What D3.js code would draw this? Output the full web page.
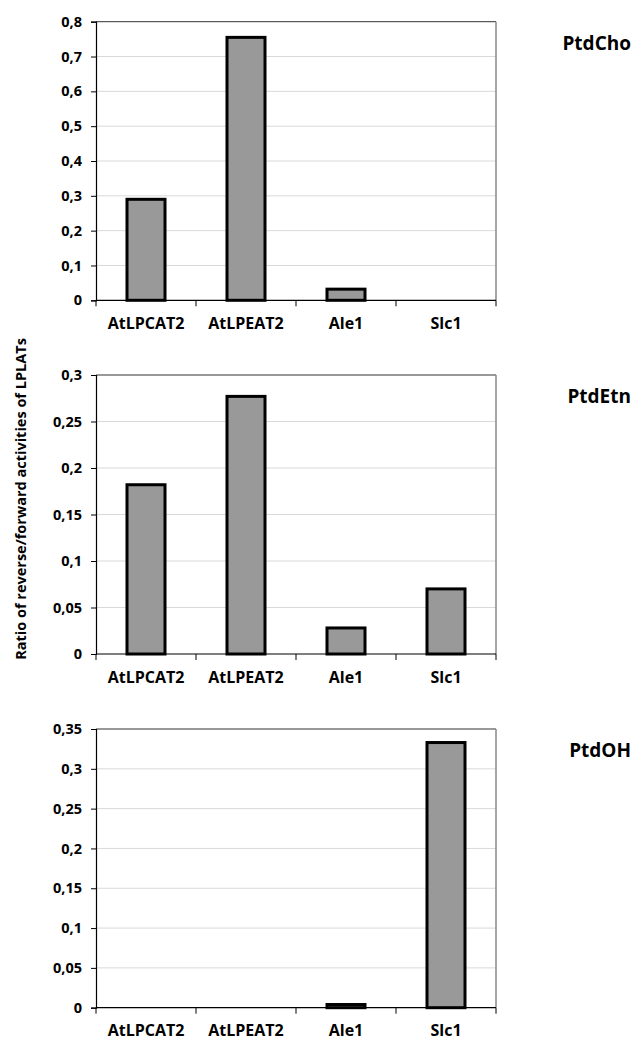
<!DOCTYPE html>
<html>
<head>
<meta charset="utf-8">
<script src="https://cdn.jsdelivr.net/npm/d3@7"></script>
<style>
  html, body { margin: 0; padding: 0; background: #fff; }
  svg { display: block; }
  text { font-family: "Open Sans", "DejaVu Sans", sans-serif; font-weight: bold; fill: #000; }
</style>
</head>
<body>
<svg id="chart" width="632" height="1042"></svg>
<script>
// ---- data ----
const categories = ["AtLPCAT2", "AtLPEAT2", "Ale1", "Slc1"];
const panelTitles = ["PtdCho", "PtdEtn", "PtdOH"];
const ptdChoValues = [0.29, 0.755, 0.032, 0];
const ptdEtnValues = [0.182, 0.277, 0.028, 0.07];
const ptdOHValues = [0, 0, 0.004, 0.333];
const ptdChoTicks = [0, 0.1, 0.2, 0.3, 0.4, 0.5, 0.6, 0.7, 0.8];
const ptdEtnTicks = [0, 0.05, 0.1, 0.15, 0.2, 0.25, 0.3];
const ptdOHTicks = [0, 0.05, 0.1, 0.15, 0.2, 0.25, 0.3, 0.35];
const ptdChoTickLabels = ["0", "0,1", "0,2", "0,3", "0,4", "0,5", "0,6", "0,7", "0,8"];
const ptdEtnTickLabels = ["0", "0,05", "0,1", "0,15", "0,2", "0,25", "0,3"];
const ptdOHTickLabels = ["0", "0,05", "0,1", "0,15", "0,2", "0,25", "0,3", "0,35"];
const yAxisTitle = "Ratio of reverse/forward activities of LPLATs";

const panels = [
  { title: panelTitles[0], values: ptdChoValues, ticks: ptdChoTicks, labels: ptdChoTickLabels, top: 21.7, bottom: 300.3 },
  { title: panelTitles[1], values: ptdEtnValues, ticks: ptdEtnTicks, labels: ptdEtnTickLabels, top: 375, bottom: 654 },
  { title: panelTitles[2], values: ptdOHValues, ticks: ptdOHTicks, labels: ptdOHTickLabels, top: 729, bottom: 1007.7 }
];

const svg = d3.select("#chart");
const left = 96, right = 496;

const x = d3.scaleBand().domain(categories).range([left, right]).paddingInner(0.62).paddingOuter(0.31);

panels.forEach(p => {
  const ymax = p.ticks[p.ticks.length - 1];
  const y = d3.scaleLinear().domain([0, ymax]).range([p.bottom, p.top]);
  const g = svg.append("g");

  // gridlines
  g.selectAll("line.grid").data(p.ticks.filter(t => t > 0 && t < ymax)).enter().append("line")
    .attr("x1", left).attr("x2", right)
    .attr("y1", d => y(d)).attr("y2", d => y(d))
    .attr("stroke", "#d9d9d9").attr("stroke-width", 1);

  // plot border top & right
  g.append("line").attr("x1", left).attr("x2", right).attr("y1", y(ymax)).attr("y2", y(ymax))
    .attr("stroke", "#333").attr("stroke-width", 1);
  g.append("line").attr("x1", right).attr("x2", right).attr("y1", y(ymax)).attr("y2", y(0))
    .attr("stroke", "#888").attr("stroke-width", 1.5);

  // bars
  g.selectAll("rect.bar").data(p.values.map((v, i) => ({ c: categories[i], v })).filter(d => d.v > 0))
    .enter().append("rect")
    .attr("x", d => x(d.c))
    .attr("width", x.bandwidth())
    .attr("y", d => y(d.v))
    .attr("height", d => y(0) - y(d.v))
    .attr("fill", "#999999").attr("stroke", "#000").attr("stroke-width", 3);

  // y axis
  const yAxis = d3.axisLeft(y).tickValues(p.ticks).tickFormat((d, i) => p.labels[i]).tickSize(5).tickPadding(9);
  const ya = g.append("g").attr("transform", `translate(${left},0)`).call(yAxis);
  ya.select(".domain").attr("stroke", "#000").attr("stroke-width", 1.2);
  ya.selectAll(".tick line").attr("stroke", "#000");
  ya.selectAll(".tick text").style("font-size", "14.5px").style("font-family", "Open Sans").style("font-weight", "bold").attr("fill", "#000");

  // x axis
  const xa = g.append("g").attr("transform", `translate(0,${y(0)})`);
  xa.append("line").attr("x1", left).attr("x2", right).attr("y1", 0).attr("y2", 0).attr("stroke", "#000").attr("stroke-width", 1.2);
  const edges = [left].concat(categories.slice(1).map(c => x(c) - (x.step() - x.bandwidth()) / 2), [right]);
  xa.selectAll("line.tk").data(edges).enter().append("line")
    .attr("x1", d => d).attr("x2", d => d).attr("y1", 0).attr("y2", 6)
    .attr("stroke", "#000").attr("stroke-width", 1);
  xa.selectAll("text.cat").data(categories).enter().append("text")
    .attr("x", d => x(d) + x.bandwidth() / 2).attr("y", 28.5)
    .attr("text-anchor", "middle").style("font-size", "16px").text(d => d);

  // panel title
  g.append("text").attr("x", 631).attr("y", p.top + 28).attr("text-anchor", "end")
    .style("font-size", "19px").text(p.title);
});

// y axis title
svg.append("text").attr("transform", "translate(26,499) rotate(-90)")
  .attr("text-anchor", "middle").style("font-size", "14.5px").text(yAxisTitle);
</script>
</body>
</html>
